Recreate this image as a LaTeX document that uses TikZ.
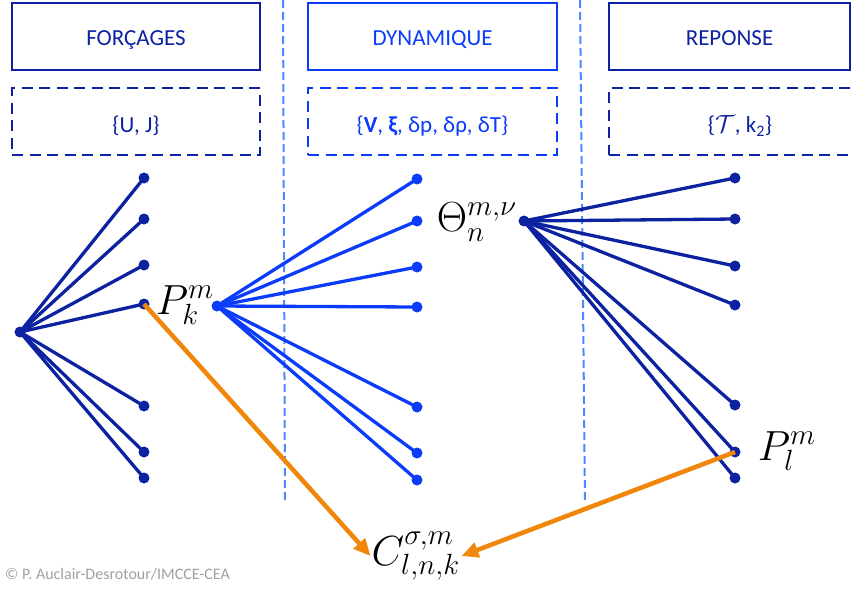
\documentclass[tikz,border=0pt]{standalone}
\usepackage{graphicx}
\usepackage{fontspec}
\newfontfamily\carl{Carlito}
\usetikzlibrary{arrows.meta}
\definecolor{dkblue}{HTML}{0C22A0}
\definecolor{brblue}{HTML}{0A3CFA}
\definecolor{ltblue}{HTML}{4D88FF}
\definecolor{orng}{HTML}{F0870A}
\definecolor{grtxt}{HTML}{A0A0A0}
\newcommand{\bigmath}[1]{\scalebox{2.03}{\huge $#1$}}
\begin{document}
\begin{tikzpicture}[x=1pt,y=-1pt,
  dot/.style={circle,fill=#1,inner sep=0pt,minimum size=11pt},
  titlebox/.style={draw=#1,text=#1,line width=2.8pt,minimum height=67pt,inner sep=0pt,
    font=\carl\fontsize{23}{27}\selectfont,text height=18.8pt,text depth=0pt},
  setbox/.style={draw=#1,text=#1,line width=2.8pt,minimum height=67pt,inner sep=0pt,
    dash pattern=on 11pt off 6.5pt,
    font=\carl\fontsize{23}{27}\selectfont,text height=22.5pt,text depth=0pt},
  fanline/.style={line width=3.3pt,#1},
  sep/.style={ltblue,line width=2pt,dash pattern=on 8pt off 4pt},
  orarrow/.style={orng,line width=4.5pt,-{Triangle[length=17pt,width=15pt]}},
  mathlbl/.style={inner sep=0pt},
]
\useasboundingbox (0,0) rectangle (852,590);
\clip (0,0) rectangle (852,590);

% column separators
\coordinate (s1t) at (283,0);
\coordinate (s1b) at (285,503);
\coordinate (s2t) at (580,0);
\coordinate (s2b) at (585,503);
\draw[sep] (s1t) -- (s1b);
\draw[sep] (s2t) -- (s2b);

% header boxes
\node[titlebox=dkblue,minimum width=248pt] (hf) at (136,36.5) {FORÇAGES};
\node[titlebox=brblue,minimum width=249pt] (hd) at (432.5,36.5) {DYNAMIQUE};
\node[titlebox=dkblue,minimum width=241pt] (hr) at (729.5,36.5) {REPONSE};
\node[setbox=dkblue,minimum width=248pt] (vf) at (136,121.5) {\{U, J\}};
\node[setbox=brblue,minimum width=249pt] (vd) at (432.5,121.5) {\{{\bfseries V}, {\bfseries ξ}, δp, δρ, δT\}};
\node[setbox=dkblue,minimum width=262pt] (vr) at (740,121.5) {\{$\mathcal{T}$, k\textsubscript{2}\}};

% fans
\node[dot=dkblue] (L0) at (20,332) {};
\node[dot=brblue] (M0) at (217,306) {};
\node[dot=dkblue] (R0) at (524,221) {};
\foreach \i/\y in {1/178,2/219,3/265,4/304,5/406,6/452,7/478}
  \node[dot=dkblue] (L\i) at (144,\y) {};
\foreach \i/\y in {1/179,2/221,3/267,4/307,5/407,6/453,7/480}
  \node[dot=brblue] (M\i) at (417,\y) {};
\foreach \i/\y in {1/178,2/219,3/266,4/305,5/405,6/452,7/478}
  \node[dot=dkblue] (R\i) at (735,\y) {};
\foreach \i in {1,...,7} {
  \draw[fanline=dkblue] (L0.center) -- (L\i.center);
  \draw[fanline=brblue] (M0.center) -- (M\i.center);
  \draw[fanline=dkblue] (R0.center) -- (R\i.center);
}

% labels
\node[mathlbl] (Pk) at (185,305) {\bigmath{P_k^m}};
\node[mathlbl] (Th) at (477,222) {\bigmath{\Theta_n^{m,\nu}}};
\node[mathlbl] (Pl) at (787,451) {\bigmath{P_l^m}};
\node[mathlbl,inner sep=1pt] (C) at (416,556) {\bigmath{C_{l,n,k}^{\sigma,m}}};

% coupling arrows
\draw[orarrow] (L4.center) -- (C.west);
\draw[orarrow] (R6.center) -- (C.east);

\node[anchor=base west,inner sep=0pt,text=grtxt,font=\carl\fontsize{16}{19}\selectfont] (cp) at (5,579) {© P. Auclair-Desrotour/IMCCE-CEA};
\end{tikzpicture}
\end{document}
